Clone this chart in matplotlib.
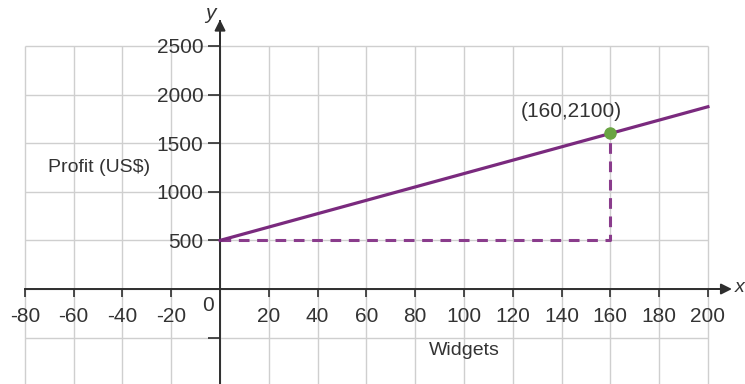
import matplotlib

matplotlib.use("Agg")

import matplotlib.pyplot as plt
import numpy as np

plt.rcParams["font.family"] = ["Liberation Sans", "DejaVu Sans"]

# data
widgets = [0, 200]
profit = [500, 1875]
point = (160, 1600)
point_label = "(160,2100)"
x_ticks = [-80, -60, -40, -20, 20, 40, 60, 80, 100, 120, 140, 160, 180, 200]
y_ticks = [500, 1000, 1500, 2000, 2500]
grid_x = np.arange(-80, 201, 20)
grid_y = np.arange(-1000, 2501, 500)

PURPLE = "#7a2a7e"
DASH = "#8a3c8c"
GREEN = "#6aa443"
AXIS = "#2e2e2e"
GRID = "#cfcfcf"
TXT = "#333333"

fig = plt.figure(figsize=(7.45, 3.84), dpi=100)
ax = fig.add_axes([0, 0, 1, 1])
ax.set_xlim(-90.2, 215.2)
ax.set_ylim(-977, 2973)

# grid, limited to the drawn region
ax.hlines(grid_y, -80, 200, color=GRID, lw=1, zorder=0)
ax.vlines(grid_x, -1000, 2500, color=GRID, lw=1, zorder=0)

# axes through the origin
for s in ("top", "right"):
    ax.spines[s].set_visible(False)
ax.spines["left"].set_position(("data", 0))
ax.spines["bottom"].set_position(("data", 0))
ax.spines["left"].set_bounds(-977, 2760)
ax.spines["bottom"].set_bounds(-80, 207)
for s in ("left", "bottom"):
    ax.spines[s].set_color(AXIS)
    ax.spines[s].set_linewidth(1.4)
ax.annotate("", xy=(211, 0), xytext=(200, 0),
            arrowprops=dict(arrowstyle="-|>", color=AXIS, lw=1.4, mutation_scale=16))
ax.annotate("", xy=(0, 2800), xytext=(0, 2500),
            arrowprops=dict(arrowstyle="-|>", color=AXIS, lw=1.4, mutation_scale=16))

ax.set_xticks(x_ticks)
ax.set_xticklabels([str(v) for v in x_ticks])
ax.set_yticks(y_ticks + [-500])
ax.set_yticklabels([str(v) for v in y_ticks] + [""])
ax.tick_params(axis="x", direction="out", length=6, width=1.2, color=AXIS,
               labelsize=15, labelcolor=TXT, pad=7)
ax.tick_params(axis="y", direction="out", length=9, width=1.2, color=AXIS,
               labelsize=15, labelcolor=TXT, pad=3)

ax.text(-5, -170, "0", ha="center", va="center", fontsize=15, color=TXT)
ax.text(-4, 2830, "y", ha="center", va="center", fontsize=15, color=TXT, style="italic")
ax.text(215.0, 20, "x", ha="right", va="center", fontsize=14, color=TXT, style="italic")

# lines
ax.plot(widgets, profit, color=PURPLE, lw=2.3, zorder=3)
ax.plot([0, point[0], point[0]], [profit[0], profit[0], point[1]],
        color=DASH, lw=2.2, ls=(0, (3.5, 2.5)), zorder=2)
ax.plot([point[0]], [point[1]], "o", color=GREEN, ms=8, zorder=4)
ax.text(144, 1830, point_label, ha="center", va="center", fontsize=15, color=TXT)

ax.text(100, -630, "Widgets", ha="center", va="center", fontsize=14, color=TXT)
ax.text(-49.6, 1245, "Profit (US$)", ha="center", va="center", fontsize=14, color=TXT)

fig.savefig("out.png", dpi=100)
